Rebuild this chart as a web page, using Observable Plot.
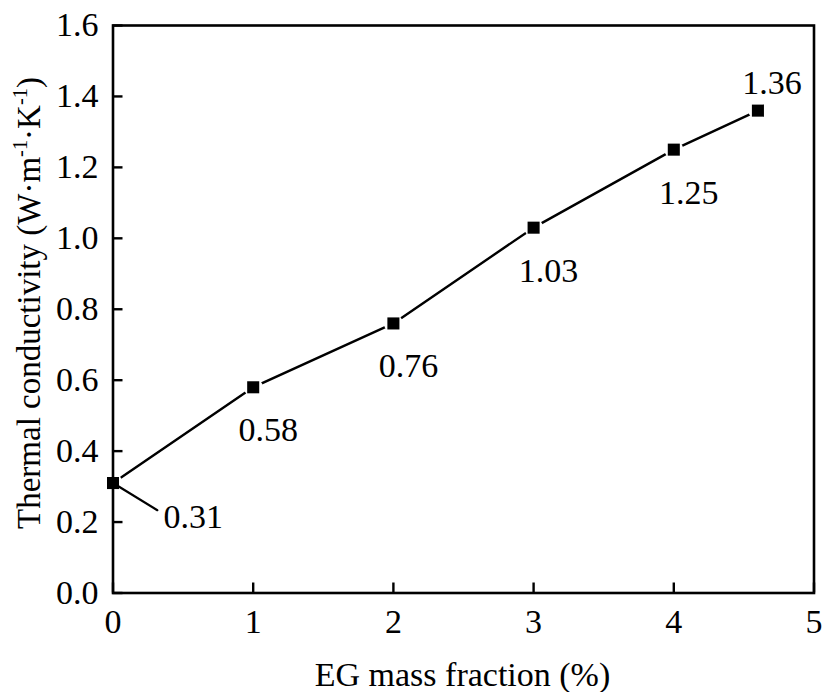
<!DOCTYPE html>
<html>
<head>
<meta charset="utf-8">
<script src="https://cdn.jsdelivr.net/npm/d3@7"></script>
<script src="https://cdn.jsdelivr.net/npm/@observablehq/plot@0.6"></script>
<style>
  html, body { margin: 0; padding: 0; background: #fff; }
  #chart { width: 822px; height: 692px; }
  #chart svg, #chart svg text { font-family: "Liberation Serif", "Times New Roman", "DejaVu Serif", serif !important; }
</style>
</head>
<body>
<div id="chart"></div>
<script>
// ---- data ----
const egFraction = [0, 1, 2, 3, 4, 4.6];
const conductivity = [0.31, 0.58, 0.76, 1.03, 1.25, 1.36];
const valueLabels = ["0.31", "0.58", "0.76", "1.03", "1.25", "1.36"];
const xTicks = [0, 1, 2, 3, 4, 5];
const yTicks = [0.0, 0.2, 0.4, 0.6, 0.8, 1.0, 1.2, 1.4, 1.6];
const xTitle = "EG mass fraction (%)";
const yTitleParts = ["Thermal conductivity (W·m", "-1", "·K", "-1", ")"];

const data = egFraction.map((x, i) => ({x, y: conductivity[i], label: valueLabels[i]}));
const firstPt = data.slice(0, 1);
const lastPt = data.slice(-1);
const middlePts = data.slice(1, -1);

const W = 822, H = 692;
const mL = 112.5, mT = 25, mR = 8.5, mB = 99.5;
const frameW = W - mL - mR, frameH = H - mT - mB;
const FONT = "Liberation Serif, Times New Roman, serif";
const FS = 34;
const FS_Y = 33;

const leader = {draw(ctx, l) { ctx.moveTo(0, 0); ctx.lineTo(0, -l); }};

const plot = Plot.plot({
  width: W, height: H,
  marginLeft: mL, marginTop: mT, marginRight: mR, marginBottom: mB,
  style: {fontFamily: FONT, fontSize: FS + "px", color: "#000", background: "#fff"},
  x: {domain: [0, 5], ticks: xTicks, label: null},
  y: {domain: [0, 1.6], ticks: yTicks, label: null},
  marks: [
    Plot.line(data, {x: "x", y: "y", stroke: "#000", strokeWidth: 2.4}),
    // white halos create the small gaps between line and markers
    Plot.dot(data, {x: "x", y: "y", r: 9.5, fill: "#fff", stroke: "none"}),
    Plot.frame({stroke: "#000", strokeWidth: 2.6}),
    Plot.tickY(yTicks, {y: d => d, stroke: "#000", strokeWidth: 2.4, insetRight: frameW - 10}),
    Plot.tickX(xTicks, {x: d => d, stroke: "#000", strokeWidth: 2.4, insetTop: frameH - 10}),
    Plot.axisX({ticks: xTicks, tickSize: 0, tickPadding: 15.5, tickFormat: d3.format("d"), fontSize: FS, label: null}),
    Plot.axisY({ticks: yTicks, tickSize: 0, tickPadding: 14.5, tickFormat: d3.format(".1f"), fontSize: FS, label: null}),
    Plot.vector(firstPt, {x: "x", y: "y", length: 52, rotate: 121.5, anchor: "start", shape: leader, stroke: "#000", strokeWidth: 2.2}),
    Plot.dot(data, {x: "x", y: "y", symbol: "square", r: 6.8, fill: "#000", stroke: "none"}),
    Plot.text(middlePts, {x: "x", y: "y", text: "label", dx: 15, dy: 43, fontSize: FS, fill: "#000"}),
    Plot.text(lastPt, {x: "x", y: "y", text: "label", dx: 14, dy: -28, fontSize: FS, fill: "#000"}),
    Plot.text(firstPt, {x: "x", y: "y", text: "label", dx: 50.5, dy: 34.5, textAnchor: "start", fontSize: FS, fill: "#000"})
  ]
});

const svg = d3.select(plot);
// x axis title
svg.append("text")
  .attr("x", 462.5).attr("y", 686)
  .attr("text-anchor", "middle")
  .attr("font-family", FONT).attr("font-size", FS)
  .attr("fill", "#000")
  .text(xTitle);
// y axis title with superscripts
const yt = svg.append("text")
  .attr("transform", "translate(40,303) rotate(-90)")
  .attr("text-anchor", "middle")
  .attr("font-family", FONT).attr("font-size", FS_Y)
  .attr("fill", "#000");
yTitleParts.forEach((p, i) => {
  const sup = i === 1 || i === 3;
  const ts = yt.append("tspan").text(p);
  if (sup) ts.attr("font-size", FS_Y * 0.62).attr("dy", -FS_Y * 0.38);
  else if (i > 0) ts.attr("dy", FS_Y * 0.38);
});

document.getElementById("chart").appendChild(plot);
</script>
</body>
</html>
